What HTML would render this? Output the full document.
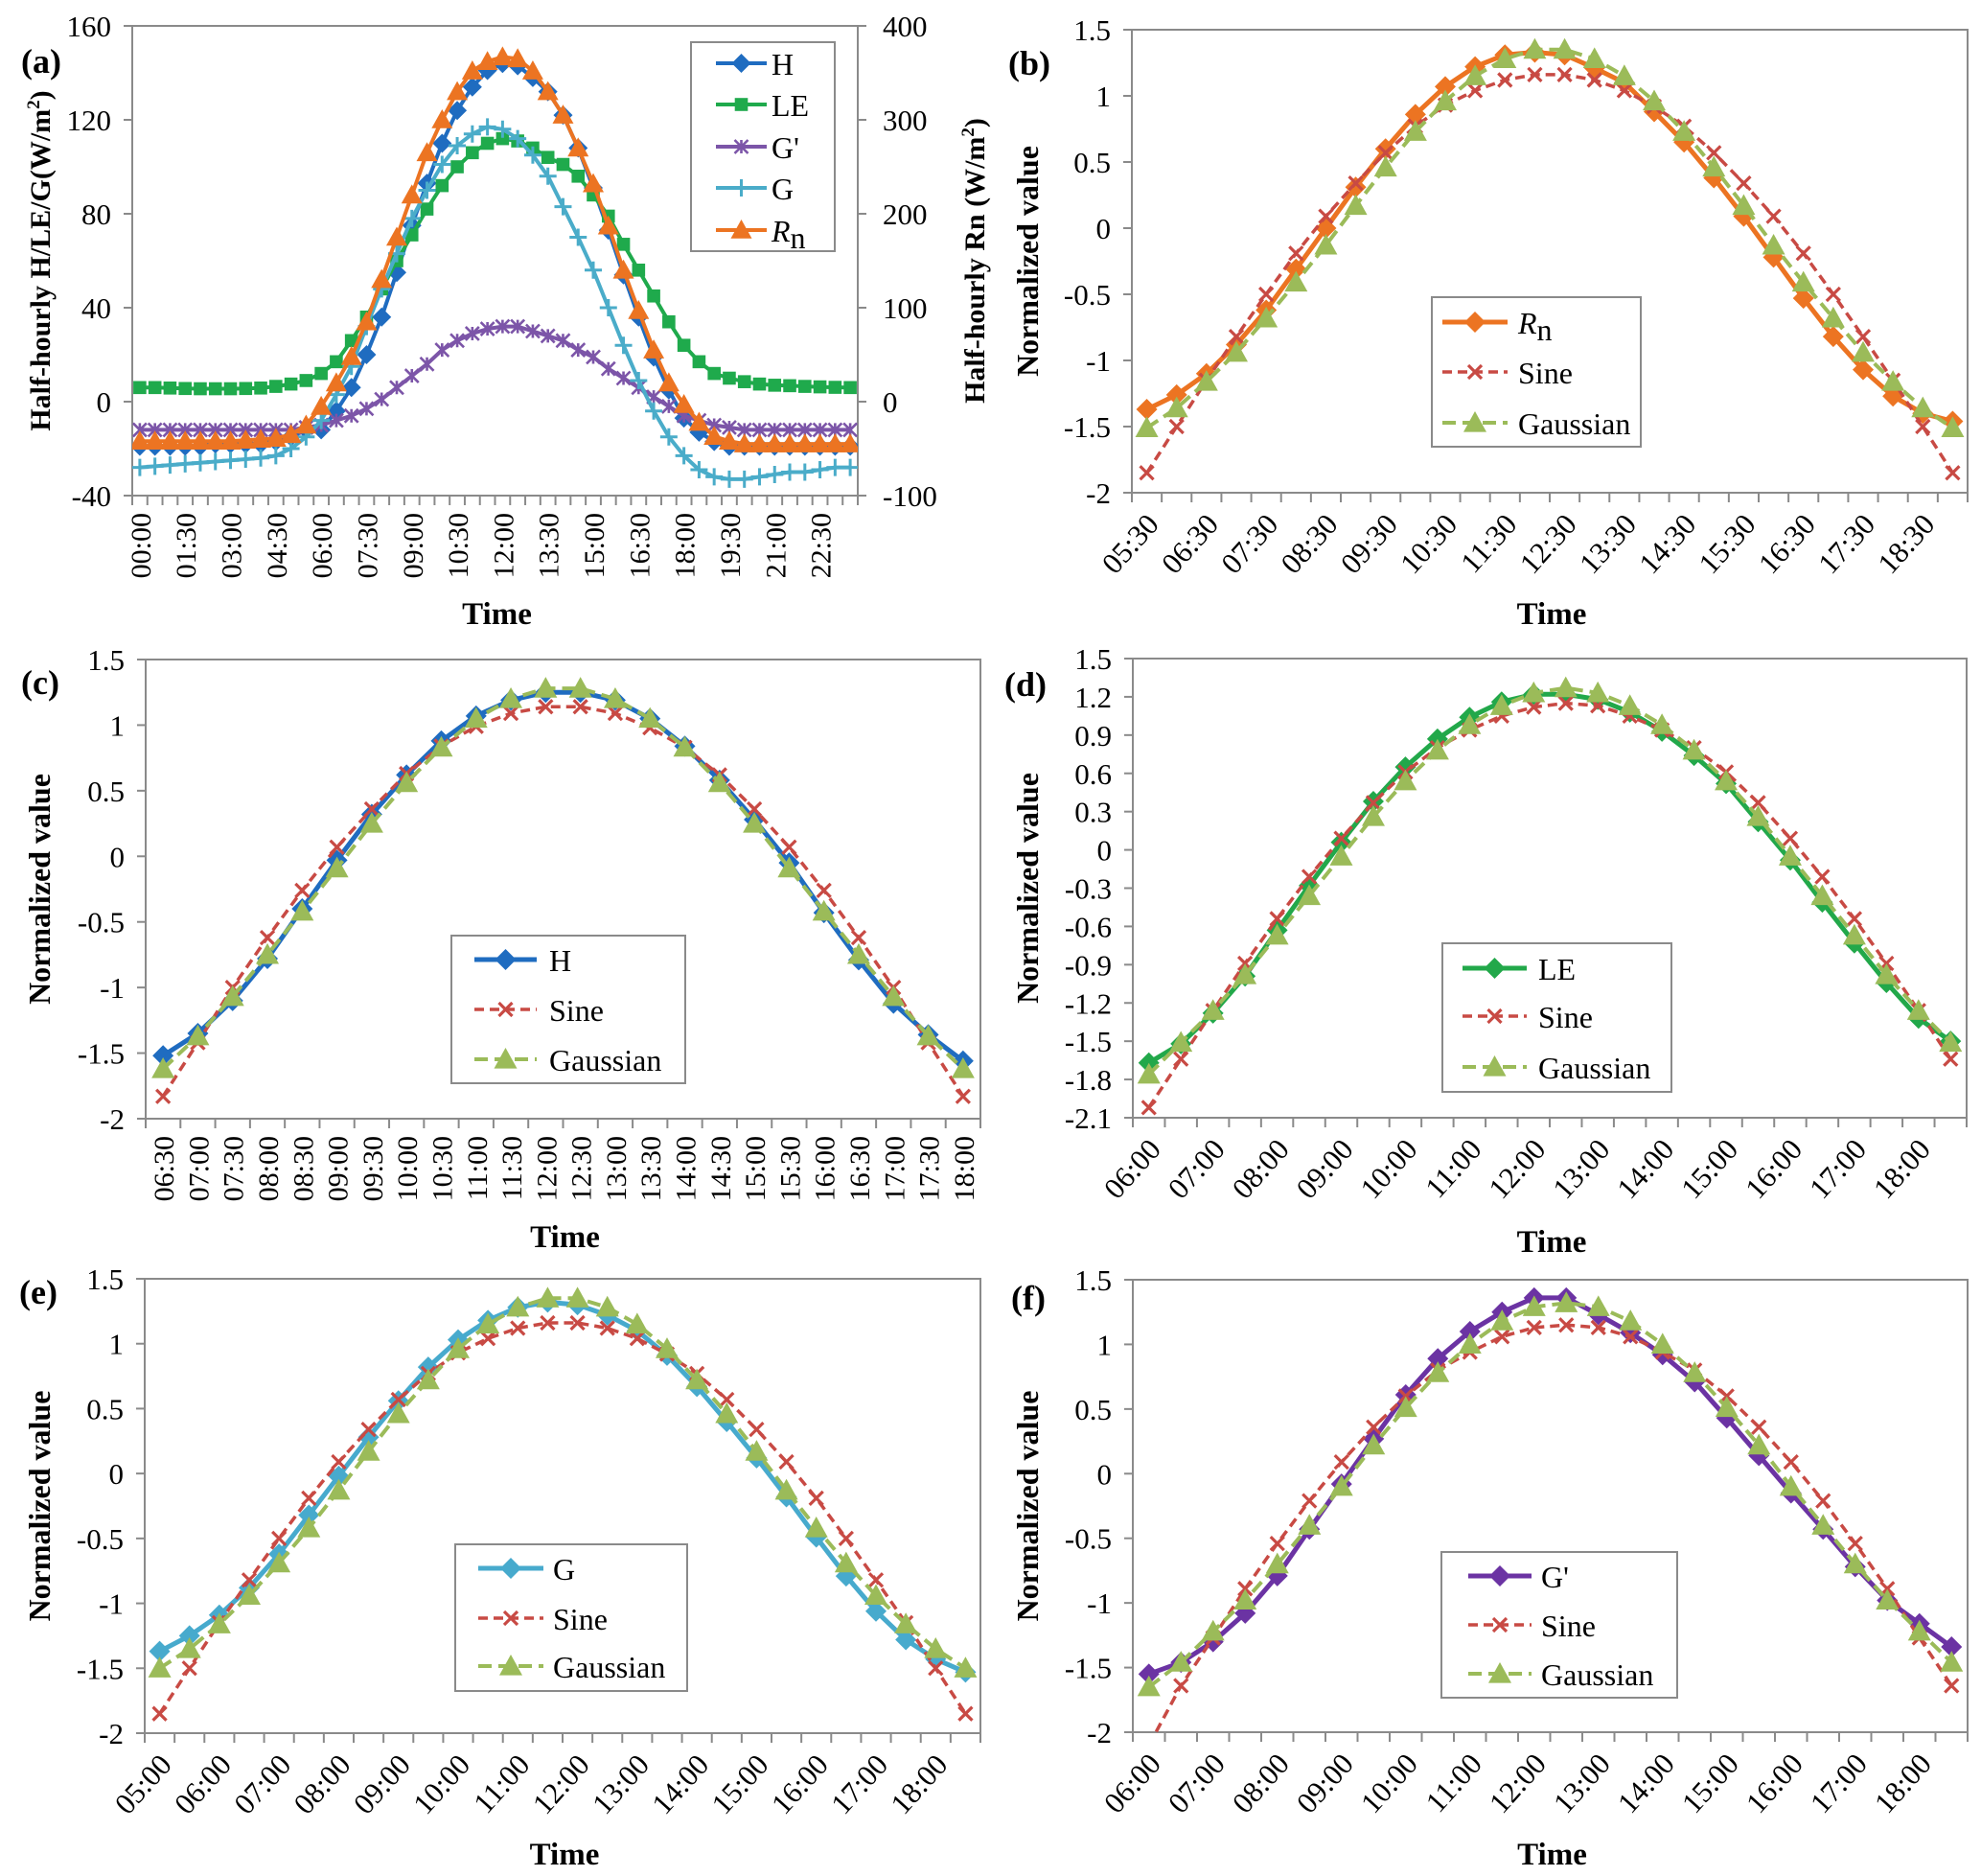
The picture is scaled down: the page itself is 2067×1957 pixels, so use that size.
<!DOCTYPE html>
<html><head><meta charset="utf-8"><style>
html,body{margin:0;padding:0;background:#fff;}
svg{display:block;font-family:"Liberation Serif","Times New Roman",serif;}
text{font-family:"Liberation Serif","Times New Roman",serif;fill:#000;}
</style></head>
<body>
<svg id="fig" xmlns="http://www.w3.org/2000/svg" width="2067" height="1957" viewBox="0 0 2067 1957" font-family="Liberation Serif, serif">
<rect x="0" y="0" width="2067" height="1957" fill="#fff"/>
</svg>
<script>
// ---------- DATA ----------
// Panel (a)
const aTickLabels = ["00:00","01:30","03:00","04:30","06:00","07:30","09:00","10:30","12:00","13:30","15:00","16:30","18:00","19:30","21:00","22:30"];
const aYLeft = ["-40","0","40","80","120","160"];
const aYRight = ["-100","0","100","200","300","400"];
const aH = [-19,-19,-19,-19,-19,-18,-18,-18,-18,-17,-15,-12,-12,-4,6,20,36,55,75,93,110,124,134,141,144,143,138,132,122,108,91,73,54,36,19,5,-7,-13,-17,-19,-19,-19,-19,-19,-19,-19,-19,-19];
const aLE = [6,6,5.8,5.6,5.5,5.5,5.5,5.6,5.8,6.5,7.5,9,12,17,26,36,48,60,71,82,92,100,106,110,112,111,108,104,101,96,88,79,67,56,45,34,24,17,12,10,8.5,7.5,7,6.8,6.5,6.3,6.1,6];
const aGp = [-12,-12,-12,-12,-12,-12,-12,-12,-12,-12,-12,-11,-10,-8,-6,-3,1,6,11,16,22,26,29,31,32,32,30,28,26,22,19,14,10,6,2,-2,-6,-8,-10,-11,-12,-12,-12,-12,-12,-12,-12,-12];
const aG = [-28,-27.5,-27,-26.5,-26,-25.5,-25,-24.5,-24,-23,-20,-15,-8,3,15,32,48,63,78,90,101,109,114,117,116,112,105,96,83,70,56,40,24,9,-4,-15,-23,-29,-32,-33,-33,-32,-31,-30,-30,-29,-28,-28];
const aRn = [-42,-42,-42,-42,-42,-42,-42,-41,-40,-39,-35,-25,-5,20,48,85,130,175,220,265,300,330,352,362,367,365,352,330,305,270,232,187,140,97,55,20,-3,-22,-37,-42,-45,-45,-45,-45,-45,-45,-45,-45];
// Panel (b)
const bTickLabels = ["05:30","06:30","07:30","08:30","09:30","10:30","11:30","12:30","13:30","14:30","15:30","16:30","17:30","18:30"];
const bY = ["-2","-1.5","-1","-0.5","0","0.5","1","1.5"];
const bRn = [-1.37,-1.26,-1.10,-0.88,-0.62,-0.31,0.00,0.31,0.60,0.86,1.07,1.22,1.31,1.33,1.31,1.21,1.10,0.88,0.65,0.38,0.09,-0.22,-0.53,-0.82,-1.07,-1.27,-1.40,-1.46];
const bSine = [-1.85,-1.50,-1.15,-0.82,-0.50,-0.19,0.09,0.34,0.57,0.77,0.93,1.04,1.12,1.16,1.16,1.12,1.04,0.92,0.77,0.57,0.34,0.09,-0.19,-0.50,-0.82,-1.15,-1.50,-1.85];
const bGauss = [-1.51,-1.36,-1.16,-0.94,-0.68,-0.41,-0.13,0.17,0.46,0.73,0.96,1.15,1.28,1.35,1.35,1.28,1.15,0.96,0.73,0.46,0.17,-0.13,-0.41,-0.68,-0.94,-1.16,-1.36,-1.51];
// Panel (c)
const cTickLabels = ["06:30","07:00","07:30","08:00","08:30","09:00","09:30","10:00","10:30","11:00","11:30","12:00","12:30","13:00","13:30","14:00","14:30","15:00","15:30","16:00","16:30","17:00","17:30","18:00"];
const cY = ["-2","-1.5","-1","-0.5","0","0.5","1","1.5"];
const cH = [-1.52,-1.35,-1.10,-0.78,-0.40,-0.03,0.32,0.62,0.88,1.07,1.19,1.25,1.25,1.19,1.05,0.84,0.58,0.28,-0.05,-0.43,-0.79,-1.12,-1.36,-1.56];
const cSine = [-1.83,-1.42,-1.00,-0.62,-0.26,0.07,0.36,0.63,0.84,0.99,1.09,1.14,1.14,1.09,0.98,0.83,0.62,0.36,0.07,-0.26,-0.62,-1.00,-1.42,-1.83];
const cGauss = [-1.62,-1.37,-1.07,-0.75,-0.42,-0.09,0.25,0.56,0.83,1.05,1.20,1.28,1.28,1.20,1.05,0.83,0.56,0.25,-0.09,-0.42,-0.75,-1.07,-1.37,-1.62];
// Panel (d)
const dTickLabels = ["06:00","07:00","08:00","09:00","10:00","11:00","12:00","13:00","14:00","15:00","16:00","17:00","18:00"];
const dY = ["-2.1","-1.8","-1.5","-1.2","-0.9","-0.6","-0.3","0","0.3","0.6","0.9","1.2","1.5"];
const dLE = [-1.67,-1.52,-1.28,-0.99,-0.63,-0.28,0.06,0.38,0.65,0.87,1.04,1.16,1.22,1.22,1.18,1.08,0.93,0.74,0.52,0.22,-0.08,-0.41,-0.73,-1.04,-1.32,-1.50];
const dSine = [-2.02,-1.64,-1.26,-0.89,-0.54,-0.21,0.09,0.37,0.61,0.80,0.94,1.05,1.12,1.15,1.13,1.05,0.94,0.80,0.61,0.37,0.09,-0.21,-0.54,-0.89,-1.26,-1.64];
const dGauss = [-1.76,-1.51,-1.26,-0.98,-0.67,-0.36,-0.05,0.26,0.54,0.78,0.98,1.13,1.23,1.27,1.23,1.13,0.98,0.78,0.54,0.26,-0.05,-0.36,-0.67,-0.98,-1.26,-1.51];
// Panel (e)
const eTickLabels = ["05:00","06:00","07:00","08:00","09:00","10:00","11:00","12:00","13:00","14:00","15:00","16:00","17:00","18:00"];
const eY = ["-2","-1.5","-1","-0.5","0","0.5","1","1.5"];
const eG = [-1.37,-1.25,-1.09,-0.88,-0.62,-0.32,-0.02,0.28,0.56,0.82,1.03,1.18,1.28,1.32,1.30,1.22,1.10,0.91,0.67,0.40,0.12,-0.18,-0.49,-0.79,-1.06,-1.28,-1.43,-1.53];
const eSine = [-1.85,-1.50,-1.15,-0.82,-0.50,-0.19,0.09,0.34,0.57,0.77,0.93,1.04,1.12,1.16,1.16,1.12,1.04,0.92,0.77,0.57,0.34,0.09,-0.19,-0.50,-0.82,-1.15,-1.50,-1.85];
const eGauss = [-1.50,-1.35,-1.16,-0.94,-0.69,-0.42,-0.13,0.17,0.46,0.72,0.96,1.15,1.28,1.35,1.35,1.28,1.15,0.96,0.72,0.46,0.17,-0.13,-0.42,-0.69,-0.94,-1.16,-1.35,-1.50];
// Panel (f)
const fTickLabels = ["06:00","07:00","08:00","09:00","10:00","11:00","12:00","13:00","14:00","15:00","16:00","17:00","18:00"];
const fY = ["-2","-1.5","-1","-0.5","0","0.5","1","1.5"];
const fGp = [-1.55,-1.46,-1.30,-1.08,-0.79,-0.43,-0.08,0.27,0.61,0.89,1.10,1.25,1.36,1.36,1.23,1.09,0.92,0.71,0.43,0.14,-0.15,-0.43,-0.72,-0.98,-1.16,-1.34];
const fSine = [-2.1,-1.64,-1.27,-0.89,-0.54,-0.21,0.09,0.36,0.60,0.80,0.94,1.06,1.13,1.15,1.13,1.06,0.94,0.80,0.60,0.36,0.09,-0.21,-0.54,-0.89,-1.27,-1.64];
const fGauss = [-1.65,-1.46,-1.22,-0.98,-0.70,-0.40,-0.10,0.22,0.51,0.78,1.00,1.18,1.29,1.32,1.29,1.18,1.00,0.78,0.51,0.22,-0.10,-0.40,-0.70,-0.98,-1.22,-1.46];

// ---------- DRAWING ----------
const NS = "http://www.w3.org/2000/svg";
const svg = document.getElementById('fig');
const FONT = '"Liberation Serif", serif';
function mk(tag, attrs, parent) {
  const e = document.createElementNS(NS, tag);
  for (const k in attrs) e.setAttribute(k, attrs[k]);
  if (tag === 'text') e.setAttribute('font-family', FONT);
  (parent || svg).appendChild(e);
  return e;
}
let clipId = 0;
function marker(g, type, x, y, s, color) {
  let e;
  if (type === 'diamond') e = mk('polygon', {points:`${x},${y-s} ${x+s},${y} ${x},${y+s} ${x-s},${y}`, fill:color}, g);
  else if (type === 'square') e = mk('rect', {x:x-s*0.85, y:y-s*0.85, width:s*1.7, height:s*1.7, fill:color}, g);
  else if (type === 'triangle') e = mk('polygon', {points:`${x},${y-s} ${x+s},${y+s*0.8} ${x-s},${y+s*0.8}`, fill:color}, g);
  else if (type === 'x') e = mk('path', {d:`M${x-s},${y-s}L${x+s},${y+s}M${x-s},${y+s}L${x+s},${y-s}`, stroke:color, 'stroke-width':3.2, fill:'none'}, g);
  else if (type === 'star') e = mk('path', {d:`M${x-s},${y-s}L${x+s},${y+s}M${x-s},${y+s}L${x+s},${y-s}M${x},${y-s}L${x},${y+s}`, stroke:color, 'stroke-width':2.6, fill:'none'}, g);
  else if (type === 'plus') e = mk('path', {d:`M${x-s},${y}L${x+s},${y}M${x},${y-s}L${x},${y+s}`, stroke:color, 'stroke-width':3, fill:'none'}, g);
  
  
  return e;
}

function panel(p) {
  const g = mk('g', {});
  
  
  const n = p.series[0].values.length;
  const bw = (p.x1 - p.x0) / n;
  const xs = i => p.x0 + bw * (i + 0.5);
  const yv = p.yLabels.map(Number);
  const ymin = yv[0], ymax = yv[yv.length - 1];
  const ys = v => p.y1 - (v - ymin) / (ymax - ymin) * (p.y1 - p.y0);
  let ysR = null;
  if (p.yRight) {
    const rv = p.yRight.map(Number);
    ysR = v => p.y1 - (v - rv[0]) / (rv[rv.length - 1] - rv[0]) * (p.y1 - p.y0);
  }
  const fr = mk('rect', {x:p.x0, y:p.y0, width:p.x1 - p.x0, height:p.y1 - p.y0, fill:'none', stroke:'#8a8a8a', 'stroke-width':2}, g);
  
  
  for (let i = 0; i <= n; i++) {
    const x = p.x0 + bw * i;
    mk('line', {x1:x, x2:x, y1:p.y1, y2:p.y1 + 10, stroke:'#8a8a8a', 'stroke-width':2}, g);
  }
  p.yLabels.forEach((lab, k) => {
    const y = ys(yv[k]);
    mk('line', {x1:p.x0 - 9, x2:p.x0, y1:y, y2:y, stroke:'#8a8a8a', 'stroke-width':2}, g);
    const t = mk('text', {x:p.x0 - 22, y:y + 11, 'text-anchor':'end', 'font-size':31}, g);
    t.textContent = lab;
    
    
  });
  if (p.yRight) {
    p.yRight.forEach((lab, k) => {
      const y = ysR(Number(lab));
      mk('line', {x1:p.x1, x2:p.x1 + 9, y1:y, y2:y, stroke:'#8a8a8a', 'stroke-width':2}, g);
      const t = mk('text', {x:p.x1 + 26, y:y + 11, 'text-anchor':'start', 'font-size':31}, g);
      t.textContent = lab;
      
      
    });
  }
  p.xLabels.forEach((lab, k) => {
    const cx = xs(k * p.xStep);
    let t;
    if (p.rot === 90) {
      t = mk('text', {x:0, y:0, 'text-anchor':'end', 'font-size':30, transform:`translate(${cx + 11},${p.y1 + 18}) rotate(-90)`}, g);
    } else {
      t = mk('text', {x:0, y:0, 'text-anchor':'end', 'font-size':31, transform:`translate(${cx + 14},${p.y1 + 34}) rotate(-48)`}, g);
    }
    t.textContent = lab;
    
    
  });
  const cid = 'clip' + (clipId++);
  const cp = mk('clipPath', {id:cid}, g);
  mk('rect', {x:p.x0, y:p.y0 - 20, width:p.x1 - p.x0, height:p.y1 - p.y0 + 20}, cp);
  const sg = mk('g', {'clip-path':`url(#${cid})`}, g);
  p.series.forEach(s => {
    const sy = s.right ? ysR : ys;
    const d = s.values.map((v, i) => (i ? 'L' : 'M') + xs(i).toFixed(1) + ',' + sy(v).toFixed(1)).join('');
    const path = mk('path', {d:d, fill:'none', stroke:s.color, 'stroke-width':s.lw, 'stroke-dasharray':s.dash || 'none', 'stroke-linejoin':'round'}, sg);
    
    
    s.values.forEach((v, i) => marker(sg, s.marker, xs(i), sy(v), s.ms, s.color));
  });
  const tt = mk('text', {x:(p.x0 + p.x1) / 2 + 2, y:p.timeY, 'text-anchor':'middle', 'font-size':33, 'font-weight':'bold'}, g);
  tt.textContent = 'Time';
  
  
  const yt = mk('text', {x:0, y:0, 'text-anchor':'middle', 'font-size':p.ytSize || 32, 'font-weight':'bold', transform:`translate(${p.ytX},${(p.y0 + p.y1) / 2}) rotate(-90)`}, g);
  yt.innerHTML = p.yTitle;
  
  
  if (p.y2Title) {
    const y2 = mk('text', {x:0, y:0, 'text-anchor':'middle', 'font-size':p.ytSize || 32, 'font-weight':'bold', transform:`translate(${p.y2X},${(p.y0 + p.y1) / 2}) rotate(-90)`}, g);
    y2.innerHTML = p.y2Title;
    
    
  }
  const pl = mk('text', {x:p.letterX, y:p.letterY, 'font-size':36, 'font-weight':'bold'}, g);
  pl.textContent = p.letter;
  
  
  const L = p.legend;
  const lg = mk('g', {}, g);
  
  
  mk('rect', {x:L.x, y:L.y, width:L.w, height:L.h, fill:'#fff', stroke:'#8a8a8a', 'stroke-width':2}, lg);
  p.series.forEach((s, k) => {
    const ry = L.rows[k];
    const eg = mk('g', {}, lg);
    
    
    mk('line', {x1:L.lx0, x2:L.lx1, y1:ry, y2:ry, stroke:s.color, 'stroke-width':s.lw, 'stroke-dasharray':s.dash || 'none'}, eg);
    marker(eg, s.marker, (L.lx0 + L.lx1) / 2, ry, s.ms, s.color);
    const t = mk('text', {x:L.tx, y:ry + 12, 'font-size':32}, eg);
    t.innerHTML = s.label;
  });
}

const sineStyle = (v) => ({key:'sine', label:'Sine', values:v, color:'#c84a44', lw:3.5, dash:'10,6', marker:'x', ms:7});
const gaussStyle = (v) => ({key:'gaussian', label:'Gaussian', values:v, color:'#9bbb59', lw:4, dash:'14,7', marker:'triangle', ms:12});
const RnLabel = '<tspan font-style="italic">R</tspan><tspan dy="7">n</tspan>';

panel({name:'panel-a', letter:'(a)', letterX:22, letterY:76, x0:138, x1:895, y0:27, y1:517,
  yLabels:aYLeft, yRight:aYRight, xLabels:aTickLabels, xStep:3, rot:90, timeY:651,
  yTitle:'Half-hourly H/LE/G(W/m<tspan font-size="19" dy="-11">2</tspan><tspan dy="11">)</tspan>', ytX:52, ytSize:30,
  y2Title:'Half-hourly Rn (W/m<tspan font-size="19" dy="-11">2</tspan><tspan dy="11">)</tspan>', y2X:1027,
  series:[
    {key:'h', label:'H', values:aH, color:'#1f6cc0', lw:4, marker:'diamond', ms:10},
    {key:'le', label:'LE', values:aLE, color:'#1faa4c', lw:4, marker:'square', ms:8},
    {key:'g-prime', label:"G'", values:aGp, color:'#7c55a8', lw:4, marker:'star', ms:7},
    {key:'g', label:'G', values:aG, color:'#4aacc9', lw:4, marker:'plus', ms:9},
    {key:'rn', label:RnLabel, values:aRn, color:'#ec7422', lw:4, marker:'triangle', ms:11, right:true}
  ],
  legend:{x:721, y:44, w:150, h:218, lx0:747, lx1:800, tx:805, rows:[66,109,153,196,240]}
});

panel({name:'panel-b', letter:'(b)', letterX:1052, letterY:78, x0:1181, x1:2053, y0:31, y1:514,
  yLabels:bY, xLabels:bTickLabels, xStep:2, rot:45, timeY:651,
  yTitle:'Normalized value', ytX:1083,
  series:[
    {key:'rn', label:RnLabel, values:bRn, color:'#ec7422', lw:5, marker:'diamond', ms:11},
    sineStyle(bSine), gaussStyle(bGauss)
  ],
  legend:{x:1494, y:310, w:218, h:156, lx0:1505, lx1:1573, tx:1584, rows:[336,388,441]}
});

panel({name:'panel-c', letter:'(c)', letterX:22, letterY:724, x0:152, x1:1023, y0:688, y1:1167,
  yLabels:cY, xLabels:cTickLabels, xStep:1, rot:90, timeY:1301,
  yTitle:'Normalized value', ytX:52,
  series:[
    {key:'h', label:'H', values:cH, color:'#1f6cc0', lw:5, marker:'diamond', ms:11},
    sineStyle(cSine), gaussStyle(cGauss)
  ],
  legend:{x:471, y:976, w:244, h:154, lx0:495, lx1:560, tx:573, rows:[1001,1053,1105]}
});

panel({name:'panel-d', letter:'(d)', letterX:1048, letterY:726, x0:1182, x1:2052, y0:687, y1:1166,
  yLabels:dY, xLabels:dTickLabels, xStep:2, rot:45, timeY:1306,
  yTitle:'Normalized value', ytX:1083,
  series:[
    {key:'le', label:'LE', values:dLE, color:'#22a84a', lw:5, marker:'diamond', ms:11},
    sineStyle(dSine), gaussStyle(dGauss)
  ],
  legend:{x:1505, y:984, w:239, h:155, lx0:1526, lx1:1593, tx:1605, rows:[1010,1060,1113]}
});

panel({name:'panel-e', letter:'(e)', letterX:20, letterY:1360, x0:151, x1:1023, y0:1334, y1:1808,
  yLabels:eY, xLabels:eTickLabels, xStep:2, rot:45, timeY:1945,
  yTitle:'Normalized value', ytX:52,
  series:[
    {key:'g', label:'G', values:eG, color:'#47aacd', lw:5, marker:'diamond', ms:11},
    sineStyle(eSine), gaussStyle(eGauss)
  ],
  legend:{x:475, y:1611, w:242, h:153, lx0:499, lx1:567, tx:577, rows:[1636,1688,1738]}
});

panel({name:'panel-f', letter:'(f)', letterX:1055, letterY:1366, x0:1182, x1:2053, y0:1335, y1:1807,
  yLabels:fY, xLabels:fTickLabels, xStep:2, rot:45, timeY:1945,
  yTitle:'Normalized value', ytX:1083,
  series:[
    {key:'g-prime', label:"G'", values:fGp, color:'#6b33a3', lw:5, marker:'diamond', ms:11},
    sineStyle(fSine), gaussStyle(fGauss)
  ],
  legend:{x:1504, y:1619, w:246, h:152, lx0:1532, lx1:1598, tx:1608, rows:[1644,1695,1746]}
});
</script>
</body></html>
